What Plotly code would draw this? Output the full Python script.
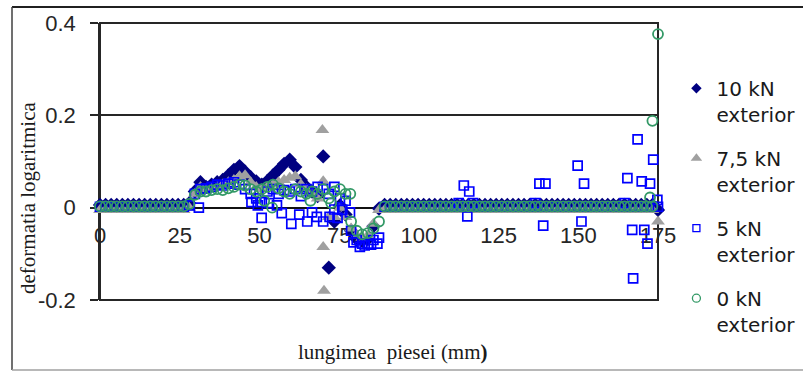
import plotly.graph_objects as go

# Measurement positions along the piece (mm)
x_mm = [0, 1.75, 3.5, 5.25, 7, 8.75, 10.5, 12.25, 14, 15.75, 17.5, 19.25, 21, 22.75, 24.5, 26.25,
        28, 29.75, 31.5, 33.25, 35, 36.75, 38.5, 40.25, 42, 43.75, 45.5, 47.25, 49, 50.75, 52.5,
        54.25, 56, 57.75, 59.5, 61.25, 63, 64.75, 66.5, 68.25, 70, 71.75, 73.5, 75.25, 77, 78.75,
        80.5, 82.25, 84, 85.75, 87.5, 89.25, 91, 92.75, 94.5, 96.25, 98, 99.75, 101.5, 103.25, 105,
        106.75, 108.5, 110.25, 112, 113.75, 115.5, 117.25, 119, 120.75, 122.5, 124.25, 126, 127.75,
        129.5, 131.25, 133, 134.75, 136.5, 138.25, 140, 141.75, 143.5, 145.25, 147, 148.75, 150.5,
        152.25, 154, 155.75, 157.5, 159.25, 161, 162.75, 164.5, 166.25, 168, 169.75, 171.5, 173.25,
        175]

# Logarithmic strain, 10 kN exterior
eps_10kN = [0.006, 0.006, 0.006, 0.006, 0.006, 0.006, 0.006, 0.006, 0.006, 0.006, 0.006, 0.006,
            0.006, 0.006, 0.006, 0.006, 0.01,
            0.035, 0.055, 0.045, 0.05, 0.055, 0.06, 0.07, 0.082, 0.09, 0.078, 0.066, 0.057, 0.05,
            0.058, 0.07, 0.082, 0.095, 0.104, 0.088, 0.06, 0.045, 0.035, 0.025, 0.111, -0.13,
            -0.03, 0.005, -0.015, -0.05, -0.068, -0.072, -0.068, -0.04, -0.002,
            0.006, 0.006, 0.006, 0.006, 0.006, 0.006, 0.006, 0.006, 0.006, 0.006, 0.006, 0.006,
            0.006, 0.006, 0.006, 0.006, 0.006, 0.006, 0.006, 0.006, 0.006, 0.006, 0.006, 0.006,
            0.006, 0.006, 0.006, 0.006, 0.006, 0.006, 0.006, 0.006, 0.006, 0.006, 0.006, 0.006,
            0.006, 0.006, 0.006, 0.006, 0.006, 0.006, 0.006, 0.006, 0.006, 0.006, 0.006, 0.006,
            0.006, -0.005]

# Logarithmic strain, 7,5 kN exterior
eps_7_5kN = [-0.005, -0.005, -0.005, -0.005, -0.005, -0.005, -0.005, -0.005, -0.005, -0.005,
             -0.005, -0.005, -0.005, -0.005, -0.005, -0.005, 0.0,
             0.03, 0.045, 0.04, 0.042, 0.045, 0.05, 0.055, 0.06, 0.068, 0.07, 0.055, 0.045, 0.04,
             0.045, 0.05, 0.055, 0.06, 0.065, 0.068, 0.05, 0.04, 0.03, 0.02, 0.057, -0.02, -0.02,
             0.0, -0.02, -0.045, -0.06, -0.065, -0.06, -0.035, -0.005,
             -0.005, -0.005, -0.005, -0.005, -0.005, -0.005, -0.005, -0.005, -0.005, -0.005,
             -0.005, -0.005, -0.005, -0.005, -0.005, -0.005, -0.005, -0.005, -0.005, -0.005,
             -0.005, -0.005, -0.005, -0.005, -0.005, -0.005, -0.005, -0.005, -0.005, -0.005,
             -0.005, -0.005, -0.005, -0.005, -0.005, -0.005, -0.005, -0.005, -0.005, -0.005,
             -0.005, -0.005, -0.005, -0.005, -0.005, -0.005, -0.005, -0.005, -0.005, -0.03]
extra_7_5kN_x = [69.75, 70.25, 70.0]
extra_7_5kN_y = [0.168, -0.18, -0.085]

# Logarithmic strain, 5 kN exterior
eps_5kN = [0.002, 0.002, 0.002, 0.002, 0.002, 0.002, 0.002, 0.002, 0.002, 0.002, 0.002, 0.002,
           0.002, 0.002, 0.002, 0.002, 0.005,
           0.03, 0.04, 0.042, 0.045, 0.05, 0.048, 0.052, 0.055, 0.05, 0.04, 0.03, 0.02, 0.012,
           0.035, 0.04, 0.03, 0.038, 0.035, 0.04, 0.025, 0.04, 0.035, 0.045, 0.04, 0.03, 0.045,
           0.02, 0.015, -0.05, -0.07, -0.078, -0.078, -0.07, -0.065,
           0.002, 0.002, 0.002, 0.002, 0.002, 0.002, 0.002, 0.002, 0.002, 0.002, 0.002, 0.002,
           0.002, 0.002, 0.002, 0.002, 0.002, 0.002, 0.002, 0.002, 0.002, 0.002, 0.002, 0.002,
           0.002, 0.002, 0.002, 0.002, 0.002, 0.002, 0.002, 0.002, 0.002, 0.002, 0.002, 0.002,
           0.002, 0.002, 0.002, 0.002, 0.002, 0.002, 0.002, 0.002, 0.002, 0.002, 0.002, 0.002,
           0.002, 0.002]
extra_5kN_x = [31.0, 47.5, 49.5, 50.7, 53.0, 55.5, 57.0, 60.0, 62.5, 65.0, 66.5, 68.0, 70.0,
               72.0, 73.5, 74.5, 76.0, 78.4, 79.5, 81.5, 83.0, 85.0, 87.0, 112.5, 114.1, 115.2,
               115.8, 117.0, 136.5, 137.8, 139.0, 139.7, 149.8, 151.0, 151.8, 164.5, 165.4, 166.9,
               167.2, 168.6, 169.9, 170.7, 171.7, 172.5, 173.5, 174.8]
extra_5kN_y = [0.0, 0.012, 0.005, -0.022, 0.01, 0.005, -0.012, -0.035, -0.015, -0.03, -0.01,
               -0.02, -0.03, -0.02, -0.004, -0.022, -0.005, -0.01, -0.075, -0.085, -0.082, -0.08,
               -0.078, 0.01, 0.048, -0.019, 0.035, 0.01, 0.01, 0.052, -0.039, 0.052, 0.091, -0.03,
               0.052, 0.01, 0.064, -0.048, -0.153, 0.148, 0.057, -0.048, -0.078, 0.052, 0.104,
               0.017]

# Logarithmic strain, 0 kN exterior
eps_0kN = [0.003, 0.003, 0.003, 0.003, 0.003, 0.003, 0.003, 0.003, 0.003, 0.003, 0.003, 0.003,
           0.003, 0.003, 0.003, 0.003, 0.008,
           0.028, 0.035, 0.035, 0.038, 0.04, 0.038, 0.042, 0.045, 0.05, 0.048, 0.04, 0.035, 0.04,
           0.045, 0.05, 0.042, 0.035, 0.03, 0.04, 0.035, 0.03, 0.035, 0.03, 0.04, 0.02, 0.035,
           0.04, 0.03, -0.03, -0.05, -0.058, -0.055, -0.045, -0.03,
           0.003, 0.003, 0.003, 0.003, 0.003, 0.003, 0.003, 0.003, 0.003, 0.003, 0.003, 0.003,
           0.003, 0.003, 0.003, 0.003, 0.003, 0.003, 0.003, 0.003, 0.003, 0.003, 0.003, 0.003,
           0.003, 0.003, 0.003, 0.003, 0.003, 0.003, 0.003, 0.003, 0.003, 0.003, 0.003, 0.003,
           0.003, 0.003, 0.003, 0.003, 0.003, 0.003, 0.003, 0.003, 0.003, 0.003, 0.003, 0.003,
           0.188, 0.376]
extra_0kN_x = [51.5, 54.0, 66.0, 72.5, 78.5, 172.5, 173.25]
extra_0kN_y = [0.015, 0.0, 0.015, 0.01, 0.03, 0.022, 0.003]

x_ticks = [0, 25, 50, 75, 100, 125, 150, 175]
y_ticks = [-0.2, 0, 0.2, 0.4]
y_ticktext = ["-0.2", "0", "0.2", "0.4"]

series_names = ["10 kN<br>exterior", "7,5 kN<br>exterior", "5 kN<br>exterior", "0 kN<br>exterior"]

NAVY = "#000080"
GREY = "#A0A0A0"
BLUE = "#0000FF"
GREEN = "#339966"
AXIS = "#262626"

styles = [
    dict(symbol="diamond", size=11, color=NAVY, line=dict(width=0)),
    dict(symbol="triangle-up", size=12, color=GREY, line=dict(width=0)),
    dict(symbol="square-open", size=9, color=BLUE, line=dict(width=1.7, color=BLUE)),
    dict(symbol="circle-open", size=10, color=GREEN, line=dict(width=1.8, color=GREEN)),
]
legend_styles = [
    dict(symbol="diamond", size=8, color=NAVY, line=dict(width=0)),
    dict(symbol="triangle-up", size=10, color=GREY, line=dict(width=0)),
    dict(symbol="square-open", size=7, color=BLUE, line=dict(width=1.3, color=BLUE)),
    dict(symbol="circle-open", size=8, color=GREEN, line=dict(width=1.3, color=GREEN)),
]

data_x = [x_mm, x_mm + extra_7_5kN_x, x_mm + extra_5kN_x, x_mm + extra_0kN_x]
data_y = [eps_10kN, eps_7_5kN + extra_7_5kN_y, eps_5kN + extra_5kN_y, eps_0kN + extra_0kN_y]

fig = go.Figure()
for xs, ys, st in zip(data_x, data_y, styles):
    fig.add_trace(go.Scatter(x=xs, y=ys, mode="markers", marker=st,
                             showlegend=False, cliponaxis=False, hoverinfo="skip"))

for i, (name, st) in enumerate(zip(series_names, legend_styles)):
    fig.add_trace(go.Scatter(x=[None], y=[None], mode="markers", marker=st, name=name,
                             legendgroup=f"g{i}", showlegend=True))

fig.update_layout(
    width=803, height=372,
    margin=dict(l=100, r=145, t=23, b=72, autoexpand=False),
    paper_bgcolor="white", plot_bgcolor="white",
    xaxis=dict(range=[0, 175], tickvals=x_ticks, showgrid=False, zeroline=False,
               showline=False, ticks="", anchor="free", position=92 / 277,
               ticklabelstandoff=12, layer="below traces",
               tickfont=dict(family="Liberation Sans, Arial", size=22, color=AXIS)),
    yaxis=dict(range=[-0.2, 0.4], tickvals=y_ticks, ticktext=y_ticktext,
               showgrid=True, gridcolor=AXIS, gridwidth=1.5,
               zeroline=True, zerolinecolor="#111111", zerolinewidth=1.5,
               showline=True, linecolor=AXIS, linewidth=1.5,
               ticks="outside", ticklen=8, tickcolor=AXIS, tickwidth=1.5,
               ticklabelstandoff=10, layer="below traces",
               tickfont=dict(family="Liberation Sans, Arial", size=22, color=AXIS)),
    legend=dict(x=1.033, xanchor="left", y=0.835, yanchor="top", valign="top",
                tracegroupgap=15, bgcolor="rgba(0,0,0,0)", maxheight=400,
                font=dict(family="DejaVu Sans", size=20, color="#1a1a1a")),
    showlegend=True,
)

# Plot-area frame
fig.add_shape(type="rect", xref="paper", yref="paper", x0=0, x1=1, y0=0, y1=1,
              line=dict(color=AXIS, width=2), layer="between")

# Chart border (top, left, bottom)
fig.add_shape(type="line", xref="paper", yref="paper", x0=-0.1577, x1=1.26, y0=1.0578, y1=1.0578,
              line=dict(color="#202020", width=2))
fig.add_shape(type="line", xref="paper", yref="paper", x0=-0.1577, x1=-0.1577, y0=-0.2527, y1=1.0578,
              line=dict(color="#404040", width=1.5))
fig.add_shape(type="line", xref="paper", yref="paper", x0=-0.1577, x1=1.26, y0=-0.2527, y1=-0.2527,
              line=dict(color="#A0A0A0", width=1.5))

fig.add_annotation(text="deformatia logaritmica", xref="paper", yref="paper",
                   x=(28 - 100) / 558, y=(300 - 198) / 277, textangle=-90, showarrow=False,
                   xanchor="center", yanchor="middle",
                   font=dict(family="Liberation Serif, Times New Roman", size=21, color="#1a1a1a"))
fig.add_annotation(text="lungimea\u00a0 piesei (mm<b>)</b>", xref="paper", yref="paper",
                   x=(393 - 100) / 558, y=(300 - 352) / 277, showarrow=False,
                   xanchor="center", yanchor="middle",
                   font=dict(family="Liberation Serif, Times New Roman", size=21, color="#1a1a1a"))

fig.write_html("out.html")
